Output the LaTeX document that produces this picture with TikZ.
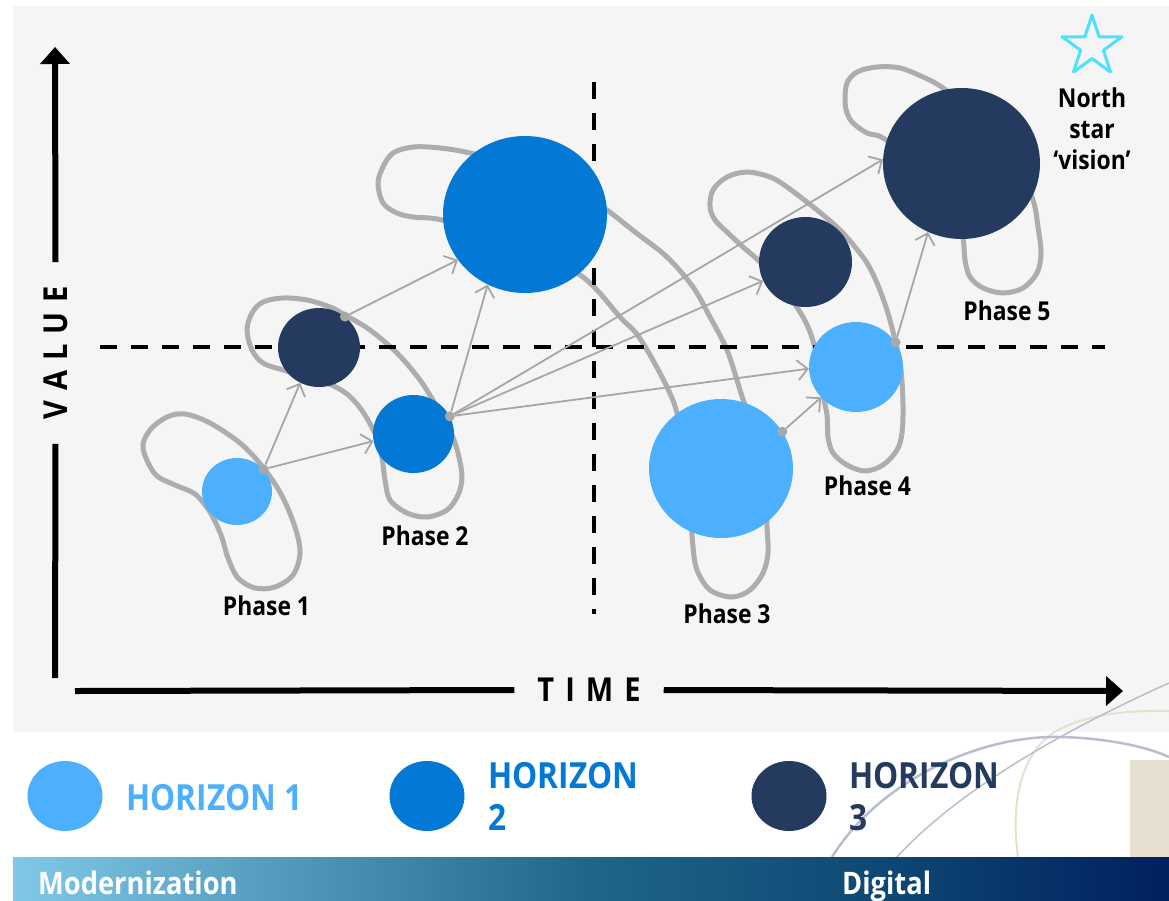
\documentclass[tikz,border=0pt]{standalone}
\usepackage{fontspec}
\setmainfont{Open Sans}[FakeStretch=0.88]
\usetikzlibrary{arrows.meta,shapes.geometric}

\definecolor{hone}{HTML}{4CB0FE}
\definecolor{htwo}{HTML}{0378D4}
\definecolor{hthree}{HTML}{243A5E}
\definecolor{loopgray}{HTML}{ADADAD}
\definecolor{arrowgray}{HTML}{A6A6A6}
\definecolor{dotgray}{HTML}{A8A8A8}
\definecolor{panel}{HTML}{F5F5F5}
\definecolor{starcyan}{HTML}{4FDFFF}
\definecolor{barA}{RGB}{128,200,232}
\definecolor{barB}{RGB}{30,102,136}
\definecolor{barC}{RGB}{14,72,116}
\definecolor{barD}{RGB}{0,32,96}
\definecolor{decoblue}{RGB}{185,189,205}
\definecolor{decobeige}{RGB}{231,224,208}

% the fitted part of a horizontal shading runs from 25bp to 75bp
\pgfdeclarehorizontalshading{barshade}{100bp}{color(0bp)=(barA); color(25bp)=(barA); color(50bp)=(barB); color(62.5bp)=(barC); color(75bp)=(barD); color(100bp)=(barD)}

\tikzset{
  loopline/.style={draw=loopgray, line width=5pt},
  link/.style={draw=arrowgray, line width=1.8pt, -{Straight Barb[length=10pt,width=20pt]}},
  hub/.style={circle, fill=dotgray, minimum size=10pt, inner sep=0pt},
  ball/.style={ellipse, inner sep=0pt, draw=none},
  axisline/.style={line width=6pt, black},
  axishead/.style={-{Triangle[length=17pt,width=29pt]}},
  guide/.style={line width=4.5pt, black, dash pattern=on 17pt off 14pt},
  phaselabel/.style={font=\fontsize{26pt}{31pt}\selectfont\bfseries, anchor=base, inner sep=0pt},
  axislabel/.style={font=\fontsize{33pt}{36pt}\selectfont\bfseries, inner ysep=0pt},
  legendtext/.style={font=\fontsize{36pt}{42pt}\selectfont\bfseries, anchor=base west, inner sep=0pt},
  bartext/.style={font=\fontsize{31pt}{34pt}\selectfont\bfseries, text=white, anchor=base west, inner sep=0pt}
}

\begin{document}
\begin{tikzpicture}[x=1pt, y=-1pt, line join=round]
\useasboundingbox (0,0) rectangle (1169,900);
\fill[white] (0,0) rectangle (1169,900);

% grey chart area
\fill[panel] (13,6) rectangle (1169,732);

% faint background artwork at the lower right
\fill[decobeige] (1130,760) rectangle (1169,857);
\draw[decobeige, line width=2pt] (1018,857) .. controls (1010,800) and (1022,748) .. (1060,729) .. controls (1090,714) and (1130,710) .. (1169,711);
\draw[decoblue, line width=2.5pt] (832,857) .. controls (880,780) and (980,735) .. (1060,737) .. controls (1110,738) and (1150,748) .. (1169,757);
\draw[decoblue, line width=1.5pt] (897,857) .. controls (940,810) and (1020,750) .. (1169,683);

% bottom band
\shade[shading=barshade] (13,857) rectangle (1169,900);
\node[bartext] (modern) at (38,894) {Modernization};
\node[bartext] (digital) at (842,894) {Digital};

% phase outlines
\draw[loopline] plot[smooth cycle, tension=0.55] coordinates {
  (143,448) (150,430) (167,417) (185,414) (210,423) (240,443) (262,466) (281,494)
  (295,527) (300,553) (293,575) (275,587) (255,588) (238,578) (228,558) (221,535)
  (210,512) (195,494) (175,485) (155,474)};
\draw[loopline] plot[smooth cycle, tension=0.55] coordinates {
  (247,330) (252,313) (263,302) (283,298) (307,300) (330,307) (345,315) (370,330)
  (397,353) (420,380) (437,407) (450,430) (458,453) (462,477) (458,495) (447,510)
  (427,517) (407,513) (390,500) (385,480) (382,458) (377,438) (363,412) (347,394)
  (327,383) (300,375) (283,370) (263,363) (252,350)};
\draw[loopline] plot[smooth cycle, tension=0.55] coordinates {
  (378,183) (383,167) (393,153) (413,147) (440,148) (470,153) (530,168) (575,188)
  (607,210) (635,232) (667,257) (693,287) (710,317) (727,350) (740,390) (746,408)
  (758,440) (766,490) (767,527) (768,553) (763,573) (750,590) (732,597) (710,590)
  (697,570) (693,547) (690,505) (686,460) (677,413) (667,387) (650,355) (636,333)
  (620,317) (597,290) (577,273) (540,255) (500,238) (442,220) (413,217) (397,213)
  (383,203)};
\draw[loopline] plot[smooth cycle, tension=0.55] coordinates {
  (710,207) (713,190) (727,177) (747,172) (770,177) (787,187) (817,210) (840,230)
  (855,247) (867,263) (877,283) (887,310) (895,340) (901,370) (903,405) (902,433)
  (897,450) (883,465) (865,471) (847,465) (833,453) (828,437) (827,415) (822,390)
  (818,360) (810,332) (800,312) (782,287) (760,262) (743,247) (727,232) (715,220)};
\draw[loopline] plot[smooth cycle, tension=0.55] coordinates {
  (845,100) (847,83) (857,72) (877,67) (900,68) (923,77) (943,88) (985,120)
  (1015,155) (1033,200) (1038,227) (1041,253) (1037,273) (1023,288) (1003,293)
  (983,288) (970,277) (965,260) (963,238) (955,205) (920,165) (883,138) (867,133)
  (853,123) (847,113)};

% quadrant guides
\coordinate (hg1) at (100,347);
\coordinate (hg2) at (1105,347);
\coordinate (vg1) at (594,82);
\coordinate (vg2) at (594,614);
\draw[guide] (hg1) -- (hg2);
\draw[guide] (vg1) -- (vg2);

% initiatives
\node[ball, fill=hone,   minimum width=70pt,  minimum height=67pt]  (c1) at (237,491.5) {};
\node[ball, fill=hthree, minimum width=82pt,  minimum height=79pt]  (c2) at (319,347.5) {};
\node[ball, fill=htwo,   minimum width=81pt,  minimum height=78pt]  (c3) at (413.5,434) {};
\node[ball, fill=htwo,   minimum width=164pt, minimum height=157pt] (c4) at (525,214.5) {};
\node[ball, fill=hone,   minimum width=144pt, minimum height=139pt] (c5) at (721,468.5) {};
\node[ball, fill=hone,   minimum width=94pt,  minimum height=90pt]  (c6) at (856,367) {};
\node[ball, fill=hthree, minimum width=93pt,  minimum height=90pt]  (c7) at (805.5,262) {};
\node[ball, fill=hthree, minimum width=157pt, minimum height=151pt] (c8) at (961.5,163.5) {};

% hand-over points
\node[hub] (d1) at (c1.40) {};
\node[hub] (d2) at (c2.50) {};
\node[hub] (d3) at (c3.26) {};
\node[hub] (d4) at (c5.31) {};
\node[hub] (d5) at (c6.32) {};

% dependencies
\draw[link] (d1) -- (c2.242);
\draw[link] (d1) -- (c3.190);
\draw[link] (d2) -- (c4.214);
\draw[link] (d3) -- (c4.242);
\draw[link] (d3) -- (c8.177);
\draw[link] (d3) -- (c7.204);
\draw[link] (d3) -- (c6.182);
\draw[link] (d4) -- (c6.221);
\draw[link] (d5) -- (c8.244);

% phase names
\node[phaselabel] (p1) at (266.5,615) {Phase 1};
\node[phaselabel] (p2) at (425,545) {Phase 2};
\node[phaselabel] (p3) at (727,623) {Phase 3};
\node[phaselabel] (p4) at (867.5,495) {Phase 4};
\node[phaselabel] (p5) at (1007,320) {Phase 5};

% north star
\node[star, star points=5, star point ratio=2.618, draw=starcyan, line width=3pt,
      minimum size=63pt, inner sep=0pt] (northstar) at (1092,46.5) {};
\node[font=\fontsize{26pt}{31pt}\selectfont\bfseries, align=center, anchor=north,
      inner sep=0pt] (vision) at (1092,88) {North\\star\\‘vision’};

% axes
\coordinate (vtip) at (55,47);
\coordinate (vbase) at (55,678);
\coordinate (hstart) at (75,691);
\coordinate (htip) at (1123,691);
\node[axislabel, rotate=90, inner xsep=24pt] (value) at (55.5,353)
  {V\hspace{10pt}A\hspace{10pt}L\hspace{10pt}U\hspace{10pt}E};
\node[axislabel, inner xsep=23pt] (time) at (589,690)
  {T\hspace{11pt}I\hspace{11pt}M\hspace{11pt}E};
\draw[axisline, axishead] (value.east) -- (vtip);
\draw[axisline] (value.west) -- (vbase);
\draw[axisline] (hstart) -- (time.west);
\draw[axisline, axishead] (time.east) -- (htip);

% legend
\node[ball, fill=hone,   minimum width=75pt, minimum height=70pt] (lg1) at (65,796) {};
\node[ball, fill=htwo,   minimum width=75pt, minimum height=70pt] (lg2) at (427,796) {};
\node[ball, fill=hthree, minimum width=75pt, minimum height=70pt] (lg3) at (789,796) {};
\node[legendtext, text=hone] (lt1) at (126,810) {HORIZON 1};
\node[legendtext, text=htwo] (lt2a) at (488,788) {HORIZON};
\node[legendtext, text=htwo] (lt2b) at (488,830) {2};
\node[legendtext, text=hthree] (lt3a) at (849,788) {HORIZON};
\node[legendtext, text=hthree] (lt3b) at (849,830) {3};
\end{tikzpicture}
\end{document}
